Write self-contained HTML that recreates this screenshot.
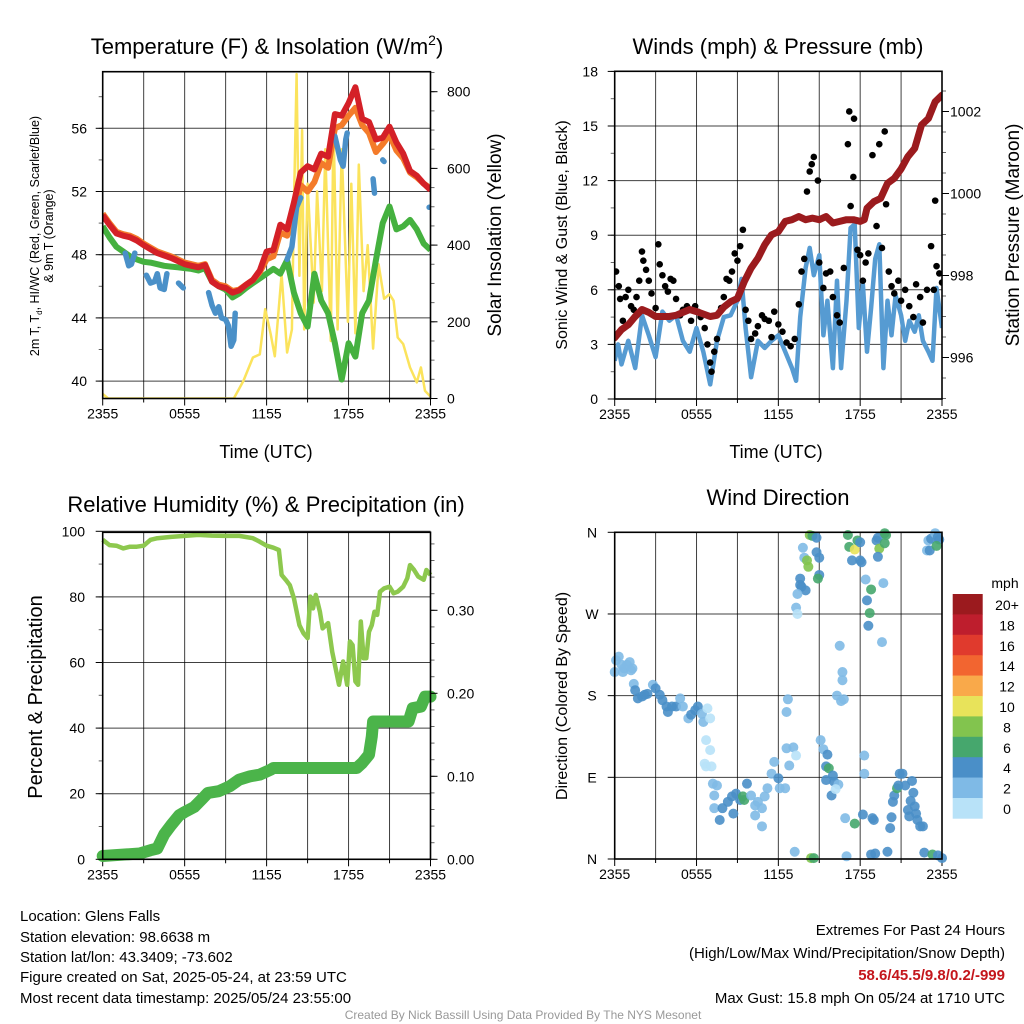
<!DOCTYPE html>
<html><head><meta charset="utf-8">
<style>
html,body{margin:0;padding:0;background:#fff;}
svg{display:block;font-family:"Liberation Sans",Arial,sans-serif;}
</style></head>
<body>
<svg id="c" width="1024" height="1024" viewBox="0 0 1024 1024" xmlns="http://www.w3.org/2000/svg">
<rect width="1024" height="1024" fill="#fff"/>
<text x="267" y="54" font-size="22" text-anchor="middle">Temperature (F) &amp; Insolation (W/m<tspan font-size="14" dy="-9">2</tspan><tspan dy="9">)</tspan></text>
<text x="778" y="54" font-size="22" text-anchor="middle">Winds (mph) &amp; Pressure (mb)</text>
<text x="266" y="512" font-size="22" text-anchor="middle">Relative Humidity (%) &amp; Precipitation (in)</text>
<text x="778" y="505" font-size="22" text-anchor="middle">Wind Direction</text>
<text x="266" y="458" font-size="18" text-anchor="middle">Time (UTC)</text>
<text x="776" y="458" font-size="18" text-anchor="middle">Time (UTC)</text>
<text transform="translate(39,236) rotate(-90)" font-size="12.5" text-anchor="middle">2m T, T<tspan font-size="8" dy="3">d</tspan><tspan dy="-3">, HI/WC (Red, Green, Scarlet/Blue)</tspan></text>
<text transform="translate(53,236) rotate(-90)" font-size="12.5" text-anchor="middle">&amp; 9m T (Orange)</text>
<text transform="translate(501,235) rotate(-90)" font-size="19" text-anchor="middle">Solar Insolation (Yellow)</text>
<text transform="translate(567,235) rotate(-90)" font-size="16" text-anchor="middle">Sonic Wind &amp; Gust (Blue, Black)</text>
<text transform="translate(1019,235) rotate(-90)" font-size="19" text-anchor="middle">Station Pressure (Maroon)</text>
<text transform="translate(42,697) rotate(-90)" font-size="20" text-anchor="middle">Percent &amp; Precipitation</text>
<text transform="translate(567,696) rotate(-90)" font-size="16" text-anchor="middle">Direction (Colored By Speed)</text>
<g font-size="15">
<text x="20" y="921">Location: Glens Falls</text>
<text x="20" y="942">Station elevation: 98.6638 m</text>
<text x="20" y="962">Station lat/lon: 43.3409; -73.602</text>
<text x="20" y="982">Figure created on Sat, 2025-05-24, at 23:59 UTC</text>
<text x="20" y="1003">Most recent data timestamp: 2025/05/24 23:55:00</text>
</g>
<g font-size="15" text-anchor="end">
<text x="1005" y="935">Extremes For Past 24 Hours</text>
<text x="1005" y="958">(High/Low/Max Wind/Precipitation/Snow Depth)</text>
<text x="1005" y="980" fill="#c4161c" font-weight="bold">58.6/45.5/9.8/0.2/-999</text>
<text x="1005" y="1003">Max Gust: 15.8 mph On 05/24 at 1710 UTC</text>
</g>
<text x="523" y="1019" font-size="12" fill="#999" text-anchor="middle">Created By Nick Bassill Using Data Provided By The NYS Mesonet</text>
<g id="charts"></g>
</svg>
<script>
// ---------- Temperature panel data (hours since 2355) ----------
const halfHours = [0,0.5,1,1.5,2,2.5,3,3.5,4,4.5,5,5.5,6,6.5,7,7.5,8,8.5,9,9.5,10,10.5,11,11.5,12,12.5,13,13.5,14,14.5,15,15.5,16,16.5,17,17.5,18,18.5,19,19.5,20,20.5,21,21.5,22,22.5,23,23.5,24];
const temp2m = [50.5,49.9,49.35,49.2,49.1,48.9,48.6,48.35,48.1,47.95,47.8,47.6,47.4,47.3,47.2,47.35,46.3,46.0,45.9,45.6,45.75,46.1,46.4,47.0,48.2,48.3,49.9,49.6,51.3,53.2,53.6,53.4,54.4,54.2,56.9,56.8,57.6,58.6,56.6,56.4,55.3,55.4,56.1,55.1,54.4,53.3,53.0,52.5,52.1];
const temp9m = [50.6,50.0,49.45,49.3,49.2,49.0,48.7,48.45,48.2,48.05,47.9,47.7,47.5,47.4,47.3,47.4,46.4,46.1,46.0,45.7,45.8,46.1,46.4,46.9,47.7,47.9,49.4,49.2,50.5,52.4,52.0,52.6,53.8,53.5,56.0,56.2,56.8,57.3,56.2,55.7,54.5,55.0,55.6,54.6,54.1,53.2,52.9,52.5,52.2];
const dewpoint = [49.8,49.1,48.5,48.2,47.9,47.7,47.55,47.5,47.4,47.3,47.25,47.2,47.15,47.1,47.0,47.15,46.3,46.0,45.8,45.3,45.55,45.9,46.2,46.5,46.8,47.1,46.8,47.65,45.6,44.3,43.45,46.8,45.1,44.3,42.4,40.1,42.4,41.55,44.3,45.1,47.65,50.0,51.05,49.6,49.8,50.2,49.6,48.7,48.3];
const hiwcTimes = [1.65,1.9,2.1,2.35,null,3.2,3.5,3.8,4.0,4.2,4.5,4.7,null,5.55,5.9,null,7.75,8.0,8.25,8.5,8.7,9.0,9.2,9.4,9.6,9.7,null,13.5,13.85,14.2,14.5,null,17.0,17.4,17.6,17.8,17.9,null,19.8,19.9,null,20.5,20.6,null,23.9,23.95];
const hiwcVals  = [48.1,47.3,47.4,48.1,null,46.7,46.2,46.3,46.8,45.9,45.8,46.8,null,46.2,45.9,null,45.6,44.8,44.3,44.7,44.0,43.9,43.5,42.2,42.6,44.3,null,47.7,48.5,51.0,51.6,null,55.5,54.0,53.6,55.3,55.7,null,52.8,51.9,null,54.0,53.9,null,51.0,51.0];
const solarTimes = [0,0.4,9.6,10.3,11.0,11.5,11.9,12.3,12.6,13.1,13.5,13.85,14.0,14.2,14.4,14.6,14.75,15.0,15.45,15.7,16.05,16.3,16.7,16.9,17.2,17.5,17.95,18.2,18.5,18.75,19.1,19.4,19.8,20.2,20.6,21.0,21.3,21.6,22.0,22.5,23.0,23.3,23.6,24.0];
const solarVals  = [12,0,0,46,107,115,233,168,110,324,120,180,500,846,320,700,180,560,250,540,280,650,150,720,180,650,200,560,170,610,280,400,130,350,260,272,255,159,142,81,42,81,20,5];
const tempTicks = [40,44,48,52,56];
const solarTicks = [0,200,400,600,800];
const timeLabels = ["2355","0555","1155","1755","2355"];
// ---------- Wind panel data ----------
const windTimes = [0,0.25,0.5,1,1.5,2,2.5,3,3.5,4,4.5,5,5.5,6,6.5,7,7.5,8,8.5,9,9.3,9.6,10,10.5,11,11.5,12,12.5,13,13.3,13.6,14,14.3,14.6,15,15.3,15.6,16,16.3,16.6,17,17.3,17.6,17.9,18.2,18.5,18.8,19.1,19.4,19.7,20,20.3,20.6,21,21.3,21.6,22,22.3,22.6,23,23.3,23.6,24];
const windVals  = [2.1,3.0,1.9,3.2,1.7,4.6,3.5,2.3,4.8,4.3,4.6,3.2,2.6,3.9,2.6,0.8,3.2,4.5,4.6,5.4,6.6,3.9,1.2,3.2,2.8,3.2,3.5,2.6,1.7,1.0,4.5,7.2,8.3,6.8,7.9,3.5,5.4,1.7,6.5,1.7,5.4,9.4,9.6,3.9,6.3,2.6,5.0,7.7,8.5,1.7,5.4,3.5,5.7,4.6,3.2,4.3,3.7,4.6,3.2,2.6,2.1,6.1,3.9];
const gustTimes = [0.1,0.3,0.4,0.6,0.8,1.0,1.2,1.4,1.6,1.8,2.0,2.1,2.3,2.5,2.7,3.0,3.2,3.3,3.5,3.7,3.9,4.1,4.3,4.5,4.8,5.0,5.3,5.6,5.9,6.1,6.3,6.6,6.8,7.0,7.1,7.3,7.5,7.8,8.0,8.2,8.4,8.6,8.8,9.0,9.2,9.4,9.6,9.8,10.0,10.3,10.5,10.8,11.0,11.3,11.5,11.7,12.0,12.3,12.6,12.9,13.2,13.5,13.7,13.9,14.1,14.3,14.45,14.6,14.9,15.0,15.3,15.5,15.8,16.0,16.3,16.5,16.8,17.1,17.2,17.3,17.5,17.55,17.8,18.0,18.2,18.4,18.6,18.9,19.2,19.4,19.6,19.8,19.9,20.1,20.3,20.5,20.8,21.0,21.3,21.6,21.9,22.1,22.4,22.6,22.9,23.2,23.4,23.5,23.6,23.8,24.0];
const gustVals  = [7.0,6.2,5.5,4.3,5.6,6.0,5.1,4.9,5.6,6.5,8.1,7.6,7.1,6.5,5.8,5.0,8.5,7.4,6.8,6.2,5.9,6.6,6.5,5.5,4.6,4.9,5.1,4.3,5.1,4.8,4.5,3.9,3.0,2.0,1.5,2.6,3.3,5.0,5.6,6.6,6.5,7.0,8.0,7.6,8.4,9.3,4.9,4.3,3.3,3.6,4.0,4.6,4.4,4.3,3.4,4.8,4.1,3.7,3.1,2.9,3.3,5.2,7.0,7.7,11.4,12.5,12.9,13.3,12.0,7.5,6.1,6.9,7.0,5.6,4.6,4.2,7.2,14.0,15.8,10.6,12.2,15.4,8.2,7.9,6.5,7.5,8.0,13.4,9.5,14.0,8.3,14.7,10.7,7.0,6.2,5.8,6.5,5.4,6.0,5.1,4.5,6.3,5.6,4.2,6.0,8.4,6.0,10.9,7.3,6.9,6.4];
const presTimes = [0,0.5,1,1.5,2,2.5,3,3.5,4,4.5,5,5.5,6,6.5,7,7.5,8,8.5,9,9.5,10,10.5,11,11.5,12,12.5,13,13.5,14,14.5,15,15.5,16,16.5,17,17.5,18,18.3,18.5,19,19.5,20,20.5,21,21.5,22,22.5,23,23.5,24];
const presVals  = [996.48,996.68,996.8,997.0,997.17,997.1,997.0,997.0,997.0,997.03,997.1,997.17,997.12,997.06,997.0,997.03,997.23,997.36,997.44,997.85,998.18,998.42,998.75,998.99,999.07,999.32,999.36,999.44,999.36,999.4,999.36,999.44,999.28,999.32,999.36,999.36,999.32,999.36,999.64,999.8,999.88,1000.25,1000.37,1000.6,1000.9,1001.1,1001.67,1001.83,1002.24,1002.4];
const windTicks = [0,3,6,9,12,15,18];
const presTicks = [996,998,1000,1002];
// ---------- RH & precip ----------
const rhTimes = [0,0.5,1,1.5,2,2.5,3,3.5,4,5,6,7,8,9,10,11,11.5,12,12.5,12.9,13.1,13.4,13.7,14,14.4,14.7,15,15.2,15.4,15.6,15.9,16.1,16.5,16.8,17.1,17.3,17.6,17.9,18.1,18.3,18.5,18.7,18.9,19.1,19.3,19.5,19.7,19.9,20.1,20.3,20.6,21,21.3,21.6,22,22.3,22.5,22.8,23.1,23.5,23.7,24];
const rhVals  = [97.4,95.8,95.6,94.8,95.3,95.3,95.6,97.4,97.9,98.3,98.6,98.9,98.7,98.6,98.6,97.9,96.8,95.6,95.0,94.3,86.7,85.2,83.6,79.6,71.4,68.9,67.4,80.1,76.5,80.6,75.5,70.4,72.0,63.3,57.2,53.2,60.3,53.2,66.4,65.3,54.2,53.2,72.5,61.3,61.3,69.4,71.4,75.5,74.5,81.6,82.6,83.1,81.1,81.6,83.1,85.7,89.7,88.2,86.2,85.2,88.2,86.7];
const prTimes = [0,2.7,3.5,4,4.5,5,5.6,6,6.7,7.3,7.7,8.5,9.3,10,10.8,11.5,12.3,12.5,18.6,19,19.5,19.7,19.8,22.4,22.7,23.3,23.6,24];
const prVals  = [0.004,0.007,0.011,0.013,0.03,0.041,0.053,0.057,0.063,0.073,0.08,0.082,0.088,0.096,0.1,0.102,0.108,0.11,0.11,0.116,0.126,0.148,0.166,0.166,0.182,0.184,0.196,0.196];
const rhTicks = [0,20,40,60,80,100];
const prTicks = [0,0.1,0.2,0.3];
const prTickLabels = ["0.00","0.10","0.20","0.30"];
// ---------- Wind direction ----------
const wdTimes = [0.0,0.3,0.5,0.7,1.1,1.2,0.1,0.6,0.9,1.3,1.4,1.5,1.7,2.0,2.2,2.4,2.8,3.0,3.3,3.5,3.8,3.9,4.2,4.5,4.8,5.0,5.4,5.6,5.9,6.1,6.4,6.5,6.8,7.0,6.7,7.0,6.6,6.7,7.1,7.2,7.5,7.3,7.3,7.7,7.9,8.3,8.6,8.7,8.9,9.2,9.4,9.5,9.7,10.0,10.3,10.5,10.8,11.0,11.2,11.5,11.7,12.0,12.1,12.5,12.6,13.1,12.8,13.3,10.3,10.8,12.7,12.6,13.2,15.1,15.3,15.6,15.5,15.7,16.0,15.5,16.1,16.4,15.9,16.2,16.9,17.6,18.2,18.9,19.0,18.3,18.3,17.0,18.8,19.1,20.0,20.2,20.3,20.4,20.5,20.7,20.8,20.9,21.1,21.3,21.8,21.9,21.7,22.0,21.5,21.6,22.1,22.2,22.4,22.6,22.7,23.3,23.7,24.0,14.4,14.6,14.3,14.5,14.8,13.8,13.9,14.1,14.2,14.8,15.0,15.0,14.9,13.6,13.6,13.7,14.0,13.4,13.3,13.4,16.5,16.7,16.7,16.3,16.6,16.8,17.1,17.2,17.6,17.8,18.0,17.4,18.0,18.1,18.4,18.8,18.5,18.7,18.6,19.6,19.2,19.3,19.8,19.9,19.4,19.8,19.3,19.7,22.9,23.1,23.0,23.2,23.5,23.7,23.8,23.6];
const wdDirs  = [206,223,214,210,217,208,219,206,214,210,193,186,177,179,181,182,192,188,181,175,168,162,168,168,177,168,155,159,164,168,160,151,166,155,131,120,105,102,102,83,81,70,56,43,56,63,69,50,72,65,69,65,83,70,59,63,56,69,78,94,107,89,78,78,122,123,103,114,48,36,176,162,8,131,121,115,102,100,92,87,85,82,70,77,45,39,49,45,43,114,94,3,5,6,8,34,46,63,70,78,81,94,94,81,86,73,64,58,54,47,50,43,36,36,7,5,4,1,1,1,357,356,354,343,332,329,322,338,332,313,309,309,302,300,296,292,277,270,235,206,197,180,174,176,357,344,341,351,349,329,329,327,308,297,285,271,257,239,351,354,359,357,342,348,333,304,340,340,351,353,359,355,352,345];
const wdSpeeds = [3,3,3,3,3,3,3,3,3,3,3,5,5,5,5,5,3,5,5,5,5,5,5,5,3,3,3,5,5,5,3,3,1,1,1,1,1,1,1,3,3,3,3,5,5,5,5,5,5,5,7,7,5,3,3,3,3,3,3,3,3,5,3,3,3,3,3,1,3,3,3,3,3,3,3,5,5,7,5,5,5,3,5,1,3,7,5,5,5,3,3,3,5,5,5,5,5,5,5,7,5,5,5,5,5,5,5,5,5,5,5,5,5,5,5,7,5,5,9,7,9,7,5,3,3,9,9,5,5,5,7,5,5,5,5,3,3,1,3,3,3,3,3,3,7,7,11,7,5,5,5,5,3,7,5,7,5,3,5,5,7,7,9,7,5,3,3,5,3,5,3,5,5,7];
const dirTicks = [0,90,180,270,360];
const dirLabels = ["N","E","S","W","N"];
const cbLabels = ["0","2","4","6","8","10","12","14","16","18","20+"];
const cbColors = ["#b8e2f8","#7fbae6","#4a8fc8","#46a76d","#82c44e","#e8e35a","#f9a94a","#f26530","#e03a2d","#be1e2d","#9b1a1e"];

const NS="http://www.w3.org/2000/svg";
const root=document.getElementById('charts');
function mk(tag,attrs,parent){const e=document.createElementNS(NS,tag);for(const k in attrs)e.setAttribute(k,attrs[k]);(parent||root).appendChild(e);return e;}
function txt(s,x,y,size,anchor,parent){const t=mk('text',{x:x,y:y,'font-size':size,'text-anchor':anchor||'middle'},parent);t.textContent=s;return t;}
function pathFrom(ts,vs,fx,fy){let d='',pen=false;for(let i=0;i<ts.length;i++){if(ts[i]===null||vs[i]===null){pen=false;continue;}d+=(pen?'L':'M')+fx(ts[i]).toFixed(1)+','+fy(vs[i]).toFixed(1);pen=true;}return d;}

function frame(name,x0,x1,y0,y1,fx){
  const g=mk('g',{});
  
  
  for(let h=0;h<=24;h+=3){
    mk('line',{x1:fx(h),x2:fx(h),y1:y0,y2:y1,stroke:'#000','stroke-width':1,'stroke-opacity':0.75},g);
    mk('line',{x1:fx(h),x2:fx(h),y1:y1,y2:y1+(h%6===0?7:4),stroke:'#000','stroke-width':1},g);
  }
  const tl=mk('g',{});
  
  
  for(let i=0;i<timeLabels.length;i++)txt(timeLabels[i],fx(i*6),y1+20,14,'middle',tl);
  return g;
}
function hgrid(g,vals,fy,x0,x1){for(const v of vals){mk('line',{x1:x0,x2:x1,y1:fy(v),y2:fy(v),stroke:'#000','stroke-width':1,'stroke-opacity':0.75},g);}}
function ticksLeft(name,vals,labels,minor,fy,x,y0,y1,anchorX){
  const g=mk('g',{});
  
  
  for(let i=0;i<vals.length;i++){const y=fy(vals[i]);mk('line',{x1:x-7,x2:x,y1:y,y2:y,stroke:'#000'},g);txt(labels[i],anchorX,y+5,14,'end',g);}
  for(const m of minor){const y=fy(m);if(y>=y0&&y<=y1)mk('line',{x1:x-4,x2:x,y1:y,y2:y,stroke:'#000','stroke-opacity':0.6},g);}
}
function ticksRight(name,vals,labels,minor,fy,x,y0,y1,anchorX){
  const g=mk('g',{});
  
  
  for(let i=0;i<vals.length;i++){const y=fy(vals[i]);mk('line',{x1:x,x2:x+7,y1:y,y2:y,stroke:'#000'},g);txt(labels[i],anchorX,y+5,14,'start',g);}
  for(const m of minor){const y=fy(m);if(y>=y0&&y<=y1)mk('line',{x1:x,x2:x+4,y1:y,y2:y,stroke:'#000','stroke-opacity':0.6},g);}
}
function range(a,b,s){const r=[];for(let v=a;v<=b+1e-9;v+=s)r.push(+v.toFixed(4));return r;}
function border(name,x0,x1,y0,y1){const r=mk('rect',{x:x0,y:y0,width:x1-x0,height:y1-y0,fill:'none',stroke:'#000','stroke-width':1.6});}

// ===== Panel 1 =====
const L1=102.7,R1=430.5,T1=71.7,B1=398.5;
const x1s=h=>L1+h*(R1-L1)/24;
const yT=v=>128.3+(56-v)*15.8;
const yS=w=>398.5-w*0.3835;
const g1=frame('temperature-panel',L1,R1,T1,B1,x1s);
hgrid(g1,tempTicks,yT,L1,R1);
const clip1=mk('clipPath',{id:'cp1'});mk('rect',{x:L1,y:T1,width:R1-L1,height:B1-T1},clip1);
const s1=mk('g',{'clip-path':'url(#cp1)'});
let p;
p=mk('path',{d:pathFrom(solarTimes,solarVals,x1s,yS),fill:'none',stroke:'#fbe35c','stroke-width':2.5,'stroke-linejoin':'round'},s1);


p=mk('path',{d:pathFrom(halfHours,dewpoint,x1s,yT),fill:'none',stroke:'#45b13f','stroke-width':6,'stroke-linejoin':'round'},s1);


p=mk('path',{d:pathFrom(halfHours,temp9m,x1s,yT),fill:'none',stroke:'#f47b2a','stroke-width':6,'stroke-linejoin':'round'},s1);


p=mk('path',{d:pathFrom(hiwcTimes,hiwcVals,x1s,yT),fill:'none',stroke:'#4a90c8','stroke-width':5.5,'stroke-linecap':'round','stroke-linejoin':'round'},s1);


p=mk('path',{d:pathFrom(halfHours,temp2m,x1s,yT),fill:'none',stroke:'#d42027','stroke-width':6,'stroke-linejoin':'round'},s1);


ticksLeft('temperature-y-axis',tempTicks,tempTicks.map(String),range(40,59,2),yT,L1,T1,B1,87);
ticksRight('solar-y-axis',solarTicks,solarTicks.map(String),range(0,860,50),yS,R1,T1,B1,447);
border('temperature-panel',L1,R1,T1,B1);

// ===== Panel 2 =====
const L2=614.7,R2=942,T2=71.3,B2=399;
const x2s=h=>L2+h*(R2-L2)/24;
const yW=m=>399-m*18.2;
const yP=v=>111.5+(1002-v)*41;
const g2=frame('winds-panel',L2,R2,T2,B2,x2s);
hgrid(g2,windTicks,yW,L2,R2);
const clip2=mk('clipPath',{id:'cp2'});mk('rect',{x:L2,y:T2,width:R2-L2,height:B2-T2},clip2);
const s2=mk('g',{'clip-path':'url(#cp2)'});
p=mk('path',{d:pathFrom(windTimes,windVals,x2s,yW),fill:'none',stroke:'#569bd2','stroke-width':4.5,'stroke-linejoin':'round'},s2);


const gg=mk('g',{},s2);


for(let i=0;i<gustTimes.length;i++){const c=mk('circle',{cx:x2s(gustTimes[i]),cy:yW(gustVals[i]),r:3.3,fill:'#000'},gg);}
p=mk('path',{d:pathFrom(presTimes,presVals,x2s,yP),fill:'none',stroke:'#9b1b1e','stroke-width':7,'stroke-linejoin':'round','stroke-linecap':'round'},s2);


ticksLeft('wind-y-axis',windTicks,windTicks.map(String),range(0,18,1.5),yW,L2,T2,B2,598);
ticksRight('pressure-y-axis',presTicks,presTicks.map(String),range(995,1003,0.5),yP,R2,T2,B2,950);
border('winds-panel',L2,R2,T2,B2);

// ===== Panel 3 =====
const T3=532.3,B3=859.3;
const yRH=r=>B3-r*3.28;
const yPr=v=>B3-v*830;
const g3=frame('humidity-panel',L1,R1,T3,B3,x1s);
hgrid(g3,rhTicks,yRH,L1,R1);
const clip3=mk('clipPath',{id:'cp3'});mk('rect',{x:L1-8,y:T3,width:R1-L1+16,height:B3-T3+8},clip3);
const s3=mk('g',{'clip-path':'url(#cp3)'});
p=mk('path',{d:pathFrom(rhTimes,rhVals,x1s,yRH),fill:'none',stroke:'#8dc84e','stroke-width':4.5,'stroke-linejoin':'round'},s3);


p=mk('path',{d:pathFrom(prTimes,prVals,x1s,yPr),fill:'none',stroke:'#4bb44a','stroke-width':12,'stroke-linejoin':'round','stroke-linecap':'round'},s3);


ticksLeft('humidity-y-axis',rhTicks,rhTicks.map(String),range(0,100,10),yRH,L1,T3,B3,85);
ticksRight('precip-y-axis',prTicks,prTickLabels,range(0,0.39,0.02),yPr,R1,T3,B3,447);
border('humidity-panel',L1,R1,T3,B3);

// ===== Panel 4 =====
const T4=532.3,B4=859;
const yD=d=>B4-d*(B4-T4)/360;
const g4=frame('wind-direction-panel',L2,R2,T4,B4,x2s);
hgrid(g4,dirTicks,yD,L2,R2);
const s4=mk('g',{});


function spdColor(s){let i=Math.floor(s/2);if(i>10)i=10;if(i<0)i=0;return cbColors[i];}
for(let i=0;i<wdTimes.length;i++){const c=mk('circle',{cx:x2s(wdTimes[i]),cy:yD(wdDirs[i]),r:5,fill:spdColor(wdSpeeds[i]),'fill-opacity':0.9},s4);}
{const g=mk('g',{});


for(let i=0;i<dirTicks.length;i++){const y=yD(dirTicks[i]);mk('line',{x1:L2-7,x2:L2,y1:y,y2:y,stroke:'#000'},g);txt(dirLabels[i],592,y+5,14,'middle',g);}}
border('wind-direction-panel',L2,R2,T4,B4);
// colorbar
{const g=mk('g',{});


txt('mph',1005,588,14,'middle',g);
const top=594,bh=20.4;
for(let i=0;i<11;i++){const idx=10-i;const r=mk('rect',{x:952.7,y:top+i*bh,width:30,height:bh+0.3,fill:cbColors[idx]},g);txt(cbLabels[idx],1007,top+i*bh+16,14,'middle',g);}}
</script>
</body></html>
